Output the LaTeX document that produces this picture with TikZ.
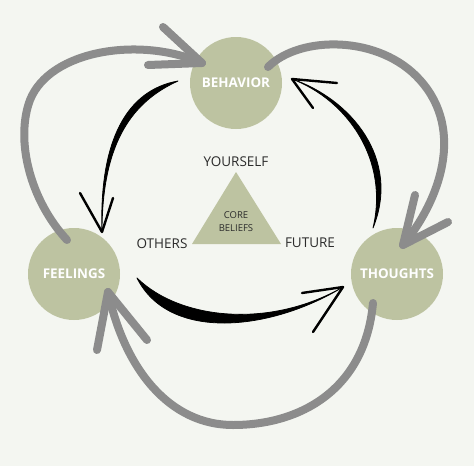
\documentclass[tikz,border=0pt]{standalone}
\usepackage{fontspec}
\setmainfont{Open Sans}
\usetikzlibrary{calc}
\definecolor{bg}{HTML}{F4F6F1}
\definecolor{sage}{HTML}{BDC3A1}
\definecolor{arrowgray}{HTML}{8C8C8C}
\definecolor{inktext}{HTML}{2B2B2B}
\begin{document}
\begin{tikzpicture}[x=1pt,y=-1pt,
  concept/.style={circle,fill=sage,minimum size=92pt,inner sep=0pt,text=white,font=\fontsize{13.4}{15}\selectfont\bfseries},
  garrow/.style={draw=arrowgray,line width=8pt,line cap=round,line join=round},
  ink/.style={fill=black,draw=black,line width=0.8pt,line join=round},
  barb/.style={draw=black,line width=2.4pt,line cap=round,line join=round},
  lbl/.style={text=inktext,font=\fontsize{13.5}{15}\selectfont,inner sep=0pt},
  small/.style={text=inktext,font=\fontsize{9.5}{13}\selectfont,align=center,inner sep=0pt}]
\fill[bg] (0,0) rectangle (474,466);
\useasboundingbox (0,0) rectangle (474,466);

% concept circles
\node[concept] (beh) at (236,83) {BEHAVIOR};
\node[concept] (feel) at (74,274) {FEELINGS};
\node[concept] (thou) at (397,274) {THOUGHTS};

% core beliefs triangle
\coordinate (ta) at (236,172);
\coordinate (tl) at (192,244);
\coordinate (tr) at (281,244);
\fill[sage] (ta) -- (tl) -- (tr) -- cycle;
\node[small] (core) at (236,222) {CORE\\BELIEFS};
\node[lbl] (you) at (236,162) {YOURSELF};
\node[lbl] (oth) at (162,244) {OTHERS};
\node[lbl] (fut) at (310,243) {FUTURE};

% gray outer arrows
\draw[garrow] ([shift={(-7,-34)}]feel.center) .. controls (30,200) and (15,140) .. (30,100)
  .. controls (50,50) and (140,36) .. ([shift={(-34,-20)}]beh.center) coordinate (gtA);
\draw[garrow] (163,27) -- (gtA) -- (148,65);

\draw[garrow] ([shift={(32,-16)}]beh.center) .. controls (300,35) and (380,35) .. (420,80)
  .. controls (465,130) and (440,200) .. ([shift={(6,-29)}]thou.center) coordinate (gtB);
\draw[garrow] (415,195) -- (gtB) -- (448,222);

\draw[garrow] ([shift={(-24,29)}]thou.center) .. controls (365,390) and (300,425) .. (233,425)
  .. controls (170,425) and (125,370) .. ([shift={(34,18)}]feel.center) coordinate (gtC);
\draw[garrow] (97,350) -- (gtC) -- (147,340);

% black brush arrows
\coordinate (b1s) at ([shift={(-58,-2)}]beh.center);
\coordinate (b1t) at ([shift={(28,-42)}]feel.center);
\filldraw[ink] (b1s) .. controls (127,90) and (99,140) .. (b1t)
  .. controls (102,140) and (134,101) .. (b1s) -- cycle;
\draw[barb] (80,193) -- (b1t) -- (113,198);

\coordinate (b2s) at ([shift={(63,4)}]feel.center);
\coordinate (b2t) at ([shift={(-54,13)}]thou.center);
\filldraw[ink] (b2s) .. controls (169,342) and (271,331) .. (b2t)
  .. controls (270,329) and (180,320) .. (b2s) -- cycle;
\draw[barb] (302,293) -- (b2t) -- (313,332);

\coordinate (b3s) at ([shift={(-24,-46)}]thou.center);
\coordinate (b3t) at ([shift={(56,-4)}]beh.center);
\filldraw[ink] (b3s) .. controls (401,159) and (351,99) .. (b3t)
  .. controls (349,101) and (389,161) .. (b3s) -- cycle;
\draw[barb] (337,83) -- (b3t) -- (313,108);
\end{tikzpicture}
\end{document}
